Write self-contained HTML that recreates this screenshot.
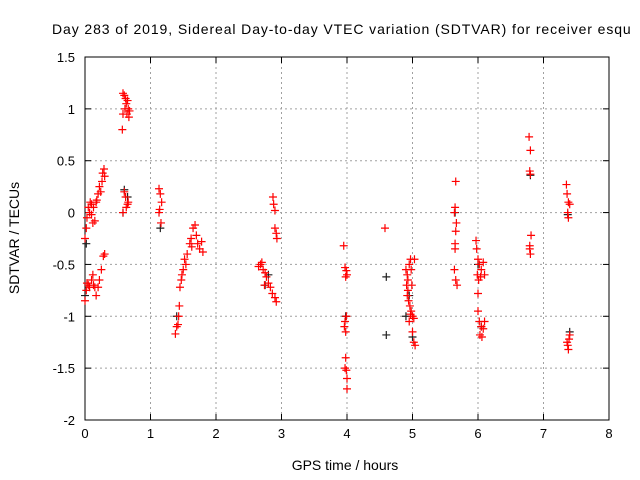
<!DOCTYPE html>
<html><head><meta charset="utf-8"><style>
html,body{margin:0;padding:0;background:#fff;}
svg{display:block;font-family:"Liberation Sans",sans-serif;}
</style></head><body>
<svg id="chart" width="640" height="480" viewBox="0 0 640 480">
<rect width="640" height="480" fill="#fff"/>
<text x="52" y="34" font-size="14" letter-spacing="0.9" fill="#000">Day 283 of 2019, Sidereal Day-to-day VTEC variation (SDTVAR) for receiver esqu</text>
<g id="grid"></g>
<g id="axes"></g>
<g id="blk"></g>
<g id="red"></g>
<text transform="translate(19,238) rotate(-90)" text-anchor="middle" font-size="14">SDTVAR / TECUs</text>
<text x="345" y="470" text-anchor="middle" font-size="14">GPS time / hours</text>
</svg>
<script>
const xTicks=[0,1,2,3,4,5,6,7,8];
const yTicks=[1.5,1,0.5,0,-0.5,-1,-1.5,-2];
const yTickLabels=["1.5","1","0.5","0","-0.5","-1","-1.5","-2"];
const redX=[0.0,0.02,0.03,0.05,0.07,0.08,0.1,0.12,0.13,0.15,0.17,0.2,0.22,0.24,0.26,0.27,0.29,0.3,0.18,0.1,
0.0,0.02,0.05,0.07,0.1,0.12,0.15,0.17,0.2,0.22,0.25,0.28,0.3,0.03,0.13,
0.58,0.6,0.62,0.63,0.65,0.66,0.68,0.64,0.61,0.67,0.58,0.57,0.6,0.62,0.63,0.65,0.58,0.66,
1.13,1.15,1.17,1.14,1.16,1.13,
1.38,1.4,1.42,1.44,1.45,1.47,1.5,1.52,1.54,1.56,1.6,1.62,1.65,1.68,1.7,1.72,1.75,1.78,1.8,1.63,1.48,1.43,
2.65,2.68,2.7,2.72,2.75,2.77,2.8,2.83,2.86,2.9,2.92,2.74,
2.87,2.88,2.9,2.9,2.92,2.93,
3.95,3.97,3.99,4.0,3.98,3.99,3.97,3.96,3.98,3.98,3.97,3.99,4.0,4.0,
4.58,
4.9,4.92,4.93,4.95,4.97,4.98,4.91,4.93,4.92,4.94,4.96,4.98,5.0,5.02,4.95,4.97,5.0,5.02,5.04,5.03,4.99,
5.66,5.65,5.64,5.67,5.66,5.65,5.64,5.66,5.68,5.65,
5.97,5.98,6.0,6.02,6.05,6.08,5.99,6.01,6.04,6.1,6.0,6.0,6.02,6.05,6.08,6.03,6.06,6.1,
6.78,6.8,6.79,6.8,6.81,6.79,6.79,6.8,
7.35,7.36,7.38,7.4,7.37,7.38,7.36,7.37,7.39,7.4,7.38];
const redY=[-0.25,-0.15,-0.05,0.05,0.0,0.1,-0.02,-0.1,0.05,-0.08,0.1,0.18,0.25,0.2,0.3,0.38,0.42,0.35,0.12,0.08,
-0.85,-0.75,-0.7,-0.72,-0.65,-0.6,-0.72,-0.8,-0.72,-0.65,-0.55,-0.42,-0.4,-0.68,-0.7,
1.15,1.13,1.1,1.05,1.08,1.0,0.98,0.95,1.0,0.92,0.95,0.8,0.2,0.15,0.05,0.08,0.0,0.1,
0.23,0.18,0.1,0.03,-0.1,0.0,
-1.17,-1.1,-1.08,-0.9,-0.72,-0.65,-0.55,-0.45,-0.5,-0.4,-0.3,-0.25,-0.15,-0.12,-0.22,-0.3,-0.35,-0.28,-0.38,-0.33,-0.6,-1.0,
-0.52,-0.5,-0.48,-0.55,-0.58,-0.62,-0.68,-0.72,-0.78,-0.82,-0.86,-0.7,
0.15,0.08,0.02,-0.15,-0.2,-0.25,
-0.32,-0.53,-0.56,-0.6,-0.62,-1.0,-1.05,-1.1,-1.15,-1.4,-1.5,-1.52,-1.6,-1.7,
-0.15,
-0.55,-0.6,-0.65,-0.5,-0.45,-0.55,-0.7,-0.75,-0.8,-0.85,-0.9,-0.95,-1.0,-1.02,-1.05,-0.98,-1.15,-1.25,-1.28,-0.45,-0.7,
0.3,0.05,0.0,-0.1,-0.18,-0.35,-0.55,-0.65,-0.7,-0.3,
-0.27,-0.35,-0.45,-0.5,-0.55,-0.48,-0.6,-0.65,-0.62,-0.6,-0.78,-0.95,-1.05,-1.1,-1.12,-1.18,-1.2,-1.05,
0.73,0.6,0.4,0.37,-0.22,-0.32,-0.35,-0.4,
0.27,0.18,0.1,0.08,0.0,-0.05,-1.25,-1.28,-1.22,-1.18,-1.32];
const blkX=[0.0,0.02,0.6,0.58,0.65,1.15,1.4,2.75,2.8,4.6,4.6,4.9,4.95,5.0,5.65,6.0,6.05,6.8,7.37,7.4,3.98];
const blkY=[-0.8,-0.3,0.22,0.0,0.15,-0.15,-1.0,-0.7,-0.6,-0.62,-1.18,-1.0,-0.8,-1.2,0.0,-0.5,-1.1,0.36,-0.02,-1.15,-1.0];
const X0=85,X1=609,Y0=57,Y1=420;
const sx=h=>X0+(h-0)/8*(X1-X0);
const sy=v=>Y0+(1.5-v)/3.5*(Y1-Y0);
const NS="http://www.w3.org/2000/svg";
function mk(t,a,p){const e=document.createElementNS(NS,t);for(const k in a)e.setAttribute(k,a[k]);p.appendChild(e);return e;}
const grid=document.getElementById('grid'),axes=document.getElementById('axes');
xTicks.forEach((t,i)=>{const x=sx(t);
 if(i>0&&i<xTicks.length-1){const g=mk('line',{x1:x,x2:x,y1:Y0,y2:Y1,stroke:'#a0a0a0','stroke-dasharray':'2,3'},grid);
 
 }
 mk('line',{x1:x,x2:x,y1:Y1,y2:Y1-6,stroke:'#000'},axes);mk('line',{x1:x,x2:x,y1:Y0,y2:Y0+6,stroke:'#000'},axes);
 const l=mk('text',{x:x,y:Y1+18,'text-anchor':'middle','font-size':13},axes);l.textContent=String(t);
 
 });
yTicks.forEach((t,i)=>{const y=sy(t);
 if(i>0&&i<yTicks.length-1){const g=mk('line',{x1:X0,x2:X1,y1:y,y2:y,stroke:'#a0a0a0','stroke-dasharray':'2,3'},grid);
 
 }
 mk('line',{x1:X0,x2:X0+6,y1:y,y2:y,stroke:'#000'},axes);mk('line',{x1:X1,x2:X1-6,y1:y,y2:y,stroke:'#000'},axes);
 const l=mk('text',{x:X0-10,y:y+5,'text-anchor':'end','font-size':13},axes);l.textContent=yTickLabels[i];
 
 });
const fr=mk('rect',{x:X0,y:Y0,width:X1-X0,height:Y1-Y0,fill:'none',stroke:'#000'},axes);


function plus(g,x,y,c){const p=mk('path',{d:`M${x-4},${y}h8M${x},${y-4}v8`,stroke:c,'stroke-width':1.2},g);return p;}
const blk=document.getElementById('blk'),red=document.getElementById('red');
blkX.forEach((h,i)=>{const p=plus(blk,sx(h),sy(blkY[i]),'#202020');
 
 });
redX.forEach((h,i)=>{const p=plus(red,sx(h),sy(redY[i]),'#ff0000');
 
 });
</script>
</body></html>
